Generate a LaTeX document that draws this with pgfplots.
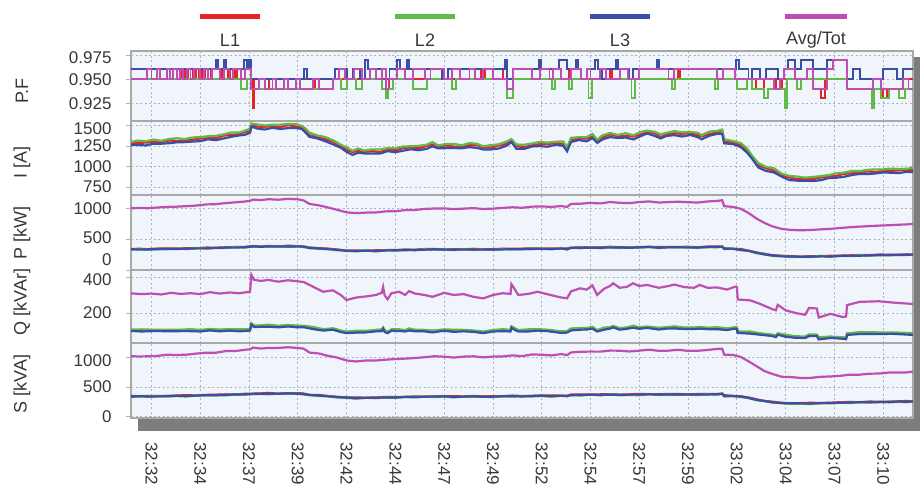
\documentclass[border=0pt]{standalone}
\usepackage{pgfplots}
\pgfplotsset{compat=1.18}
\usepackage{pgfplotstable}
\usepackage{fontspec}
\setmainfont{Liberation Sans}
\definecolor{cL1}{RGB}{232,35,40}
\definecolor{cL2}{RGB}{98,186,70}
\definecolor{cL3}{RGB}{58,78,168}
\definecolor{cAvg}{RGB}{190,78,178}
\definecolor{bgc}{RGB}{239,245,250}
\definecolor{gridc}{RGB}{170,180,190}
\definecolor{framec}{RGB}{168,168,168}
\definecolor{txt}{RGB}{55,55,55}
\definecolor{shadowc}{RGB}{125,125,125}
\newcommand\tf{\fontsize{17bp}{17bp}\selectfont}
\newcommand\lf{\fontsize{18bp}{18bp}\selectfont}

% ---------- P.F (step data) ----------
\pgfplotstableread{
t v
-1.05 0.95
1.46 0.96
1.55 0.95
1.70 0.96
1.85 0.95
2.00 0.96
2.10 0.95
2.30 0.96
2.45 0.95
2.60 0.96
2.75 0.95
2.90 0.96
3.05 0.95
3.50 0.96
3.60 0.95
3.90 0.96
4.05 0.95
4.30 0.96
4.40 0.95
5.12 0.95
5.18 0.92
5.28 0.95
6.00 0.94
6.20 0.95
6.80 0.94
7.00 0.95
8.40 0.94
8.60 0.95
12.00 0.94
12.20 0.95
16.90 0.96
17.10 0.95
17.50 0.96
18.00 0.95
18.20 0.94
18.55 0.95
21.40 0.96
21.50 0.95
23.50 0.96
23.60 0.95
27.00 0.96
27.10 0.95
31.00 0.94
31.40 0.95
32.00 0.94
32.30 0.95
33.92 0.94
34.30 0.93
34.50 0.95
35.63 0.94
37.50 0.93
37.70 0.94
38.50 0.95
39.03 0.95
}\pfA
\pgfplotstableread{
t v
-1.05 0.95
4.60 0.94
4.90 0.95
5.12 0.94
9.30 0.95
9.70 0.94
10.00 0.95
10.50 0.94
10.80 0.95
11.80 0.94
12.00 0.93
12.10 0.94
12.40 0.95
13.40 0.94
14.10 0.95
15.40 0.94
15.60 0.95
18.20 0.93
18.55 0.95
20.55 0.94
20.70 0.95
21.40 0.94
21.55 0.95
22.40 0.93
22.60 0.95
24.60 0.93
24.80 0.95
26.70 0.94
26.85 0.95
28.90 0.94
29.05 0.95
30.00 0.94
30.50 0.95
30.80 0.94
31.40 0.93
31.60 0.94
32.45 0.92
32.55 0.95
33.10 0.94
33.30 0.95
35.63 0.94
36.95 0.92
37.05 0.94
37.40 0.93
37.80 0.94
38.30 0.93
38.60 0.94
39.03 0.94
}\pfB
\pgfplotstableread{
t v
-1.05 0.96
3.30 0.97
3.42 0.96
3.72 0.97
3.84 0.96
4.75 0.97
4.88 0.96
5.00 0.97
5.12 0.95
7.82 0.96
7.95 0.95
9.40 0.96
10.00 0.95
10.35 0.96
10.69 0.95
10.95 0.97
11.08 0.96
12.00 0.95
12.20 0.96
12.60 0.97
12.72 0.96
13.10 0.97
13.22 0.96
14.90 0.95
15.20 0.96
18.10 0.97
18.20 0.95
18.55 0.96
19.85 0.97
19.98 0.96
20.90 0.97
21.30 0.96
21.75 0.97
21.85 0.96
22.00 0.95
22.30 0.96
22.75 0.97
22.88 0.96
23.10 0.95
23.30 0.96
23.80 0.97
23.92 0.96
24.50 0.95
24.70 0.96
25.90 0.97
26.02 0.96
29.95 0.97
30.12 0.96
30.60 0.95
30.80 0.96
31.20 0.95
31.50 0.96
32.10 0.95
32.40 0.96
32.60 0.97
33.00 0.96
33.30 0.97
33.92 0.96
34.60 0.97
35.63 0.95
35.95 0.96
36.30 0.95
37.50 0.96
38.20 0.95
38.50 0.96
39.03 0.96
}\pfC
\pgfplotstableread{
t v
-1.05 0.95
-0.25 0.96
0.00 0.95
0.27 0.96
0.44 0.95
0.78 0.96
0.95 0.95
1.12 0.96
1.29 0.95
1.46 0.96
1.60 0.95
1.80 0.96
2.00 0.95
2.20 0.96
2.50 0.95
2.70 0.96
2.90 0.95
3.10 0.96
3.50 0.95
3.70 0.96
4.00 0.95
4.20 0.96
4.60 0.95
4.80 0.96
5.12 0.94
5.50 0.95
5.80 0.94
6.20 0.95
6.40 0.94
6.80 0.95
7.00 0.94
7.40 0.95
7.60 0.94
8.30 0.95
8.60 0.94
9.30 0.95
9.60 0.96
9.90 0.95
10.40 0.96
10.80 0.95
11.20 0.96
11.50 0.95
11.80 0.96
12.00 0.94
12.15 0.95
12.60 0.96
13.00 0.95
13.40 0.96
14.00 0.95
14.30 0.96
15.00 0.95
15.40 0.96
15.80 0.95
16.30 0.96
16.60 0.95
17.00 0.96
17.50 0.95
18.20 0.94
18.55 0.96
19.50 0.95
19.90 0.96
20.40 0.95
20.60 0.96
21.00 0.95
21.50 0.96
22.00 0.95
22.30 0.96
22.50 0.95
23.00 0.96
23.30 0.95
24.00 0.96
24.40 0.95
25.00 0.96
26.50 0.95
26.80 0.96
29.00 0.95
29.30 0.96
29.90 0.95
31.90 0.94
32.20 0.95
32.40 0.96
33.00 0.95
33.60 0.96
33.92 0.94
34.60 0.96
34.95 0.97
35.63 0.94
37.00 0.95
37.40 0.94
38.50 0.95
38.80 0.94
39.03 0.94
}\pfD

% ---------- I [A] ----------
\pgfplotstableread{
t a b c
-1.05 1286 1300 1263
-0.7 1286 1316 1263
-0.3 1292 1306 1256
0.1 1298 1329 1278
0.5 1297 1313 1278
0.9 1317 1335 1284
1.3 1312 1345 1295
1.7 1317 1334 1297
2.1 1327 1354 1304
2.5 1342 1359 1309
2.9 1355 1369 1332
3.3 1344 1374 1321
3.7 1378 1392 1342
4.1 1383 1414 1363
4.5 1398 1414 1379
4.8 1420 1438 1387
5.05 1429 1462 1412
5.12 1507 1524 1487
5.4 1487 1514 1464
5.8 1484 1501 1451
6.2 1495 1509 1472
6.6 1481 1511 1458
7.0 1504 1518 1468
7.4 1488 1519 1468
7.7 1478 1494 1459
7.9 1445 1463 1412
8.1 1379 1412 1362
8.5 1362 1379 1342
8.9 1332 1359 1309
9.3 1304 1321 1271
9.7 1253 1267 1230
10.0 1201 1231 1178
10.3 1178 1192 1142
10.6 1188 1219 1168
10.9 1178 1194 1159
11.3 1191 1209 1158
11.7 1174 1207 1157
12.1 1207 1224 1187
12.5 1197 1224 1174
12.9 1226 1243 1193
13.3 1233 1247 1210
13.7 1222 1252 1199
14.1 1251 1265 1215
14.4 1266 1297 1246
14.7 1240 1256 1221
15.1 1257 1275 1224
15.5 1242 1275 1225
15.9 1242 1259 1222
16.3 1259 1286 1236
16.7 1259 1276 1226
17.0 1231 1245 1208
17.4 1231 1261 1208
17.8 1256 1270 1220
18.2 1273 1304 1253
18.45 1318 1334 1299
18.7 1250 1268 1217
19.1 1232 1265 1215
19.5 1264 1281 1244
19.9 1272 1299 1249
20.3 1274 1291 1241
20.7 1288 1302 1265
21.1 1276 1306 1253
21.3 1221 1235 1185
21.5 1318 1349 1298
21.9 1342 1358 1323
22.3 1340 1358 1307
22.6 1364 1397 1347
22.85 1307 1324 1287
23.1 1352 1379 1329
23.5 1392 1409 1359
23.9 1371 1385 1348
24.3 1376 1406 1353
24.7 1366 1380 1330
25.1 1393 1424 1373
25.4 1422 1438 1403
25.8 1405 1423 1372
26.1 1359 1392 1342
26.4 1394 1411 1374
26.8 1405 1432 1382
27.2 1399 1416 1366
27.6 1408 1422 1385
28.0 1381 1411 1358
28.2 1368 1382 1332
28.6 1396 1427 1376
29.0 1418 1434 1399
29.25 1433 1451 1400
29.35 1299 1332 1282
29.8 1294 1311 1274
30.2 1259 1286 1236
30.5 1209 1226 1176
30.8 1113 1127 1090
31.1 1011 1041 988
31.5 981 995 945
31.9 948 979 928
32.3 895 911 876
32.7 867 885 834
33.1 844 877 827
33.5 847 864 827
33.9 845 872 822
34.3 866 883 833
34.7 881 895 858
35.1 886 916 863
35.5 911 925 875
35.9 916 947 896
36.3 928 944 909
36.7 940 958 907
37.1 932 965 915
37.5 947 964 927
37.9 947 974 924
38.3 952 969 919
38.7 958 972 935
39.03 954 984 931
}\Itab

% ---------- P [kW] ----------
\pgfplotstableread{
t a b c d
-1.05 338 326 334 995
-0.6 343 342 331 1002
-0.2 336 324 333 996
0.3 346 341 335 1008
0.8 346 332 342 1018
1.3 346 347 339 1022
1.8 351 338 343 1030
2.3 350 356 349 1040
2.8 362 344 349 1058
3.3 360 358 355 1062
3.8 366 354 362 1080
4.3 373 372 361 1092
4.8 372 360 369 1105
5.05 383 378 372 1118
5.2 386 372 382 1136
5.6 381 382 374 1128
6.0 389 376 381 1142
6.5 381 387 380 1134
7.0 392 374 379 1148
7.5 386 384 381 1140
7.8 380 368 376 1122
8.1 364 363 352 1066
8.6 351 339 348 1042
9.0 347 342 336 1012
9.5 331 317 327 972
10.0 315 316 308 930
10.5 314 301 306 918
11.0 312 318 311 926
11.5 318 300 305 928
12.0 321 319 316 946
12.5 322 310 318 948
13.0 331 330 319 966
13.5 327 315 324 968
14.0 339 334 328 986
14.5 338 324 334 992
15.0 336 337 329 994
15.5 335 322 327 982
16.0 333 339 332 990
16.5 342 324 329 998
17.0 334 332 329 984
17.5 336 324 332 990
18.0 343 342 331 1002
18.5 341 329 338 1012
19.0 345 340 334 1004
19.5 348 334 344 1022
20.0 347 348 340 1026
20.5 347 334 339 1018
21.0 347 353 346 1032
21.3 348 330 335 1018
21.5 361 359 356 1066
22.0 363 351 359 1070
22.5 370 369 358 1082
23.0 362 350 359 1074
23.5 375 370 364 1096
24.0 368 354 364 1084
24.5 365 366 358 1080
25.0 373 360 365 1096
25.5 372 378 371 1106
26.0 372 354 359 1088
26.5 371 369 366 1096
27.0 373 361 369 1102
27.5 374 373 362 1094
28.0 367 355 364 1088
28.5 379 374 368 1106
29.0 378 364 374 1114
29.25 380 381 373 1126
29.35 351 338 343 1030
29.8 342 348 341 1018
30.2 338 320 325 988
30.6 313 311 308 920
31.0 283 271 279 832
31.4 263 262 251 762
31.8 239 227 236 706
32.3 231 226 220 662
32.8 222 208 218 646
33.3 218 219 211 640
33.8 223 210 215 646
34.3 222 228 221 656
34.8 230 212 217 664
35.3 232 230 227 678
35.8 236 224 232 690
36.3 242 241 230 700
36.8 240 228 237 708
37.3 249 244 238 716
37.8 248 234 244 722
38.3 248 249 241 730
38.7 253 240 245 736
39.03 250 256 249 742
}\Ptab

% ---------- Q [kVAr] ----------
\pgfplotstableread{
t a b c d
-1.05 104 108 100 309
-0.5 100 109 97 305
0.0 105 107 99 308
0.5 101 107 99 303
1.0 103 107 98 312
1.5 105 107 99 306
2.0 100 110 99 310
2.5 103 106 97 305
3.0 105 111 103 316
3.5 105 108 98 308
4.0 106 110 102 314
4.5 101 110 98 310
5.05 108 110 102 318
5.12 137 143 135 412
5.25 127 131 122 385
5.6 129 131 123 378
6.0 125 135 124 384
6.5 126 129 120 374
7.0 127 133 125 382
7.5 127 130 120 376
7.8 125 129 121 372
8.3 113 122 110 345
8.8 108 110 102 318
9.3 109 115 107 326
9.7 99 103 94 300
10.0 94 96 88 272
10.5 92 102 91 286
11.0 98 101 92 292
11.5 100 106 98 300
11.8 106 109 99 312
11.87 116 120 112 345
11.95 97 106 94 298
12.1 94 96 88 276
12.3 103 109 101 310
12.7 105 109 100 318
13.0 103 105 97 300
13.2 104 114 103 322
13.5 104 107 98 308
14.0 100 106 98 300
14.4 99 102 92 290
15.0 105 109 101 312
15.5 98 107 95 300
16.0 104 106 98 305
16.5 97 103 95 290
17.0 93 97 88 281
17.5 103 105 97 300
18.0 100 110 99 310
18.4 103 106 97 306
18.45 120 126 118 360
18.6 114 117 107 335
18.8 101 105 97 300
19.3 100 109 97 306
19.8 108 110 102 318
20.3 101 107 99 304
21.0 94 98 89 286
21.3 97 99 91 282
21.5 104 114 103 320
21.97 113 116 107 337
22.3 110 116 108 330
22.6 120 123 113 353
22.84 101 105 97 300
23.2 110 119 107 335
23.5 119 121 113 350
23.66 122 128 120 365
24.0 112 116 107 340
24.38 118 120 112 346
24.68 119 129 118 365
25.0 118 121 112 350
25.4 119 125 117 356
26.0 115 118 108 340
26.5 118 122 114 350
26.8 117 126 114 358
27.3 117 119 111 344
27.8 113 119 111 340
28.1 118 122 113 356
28.5 116 118 110 340
29.0 111 121 110 342
29.5 111 114 105 330
29.9 115 121 113 346
30.0 117 120 110 345
30.05 93 97 89 275
30.7 88 97 85 270
31.2 85 87 79 250
31.8 74 80 72 222
32.0 71 75 66 215
32.1 85 87 79 245
32.5 69 79 68 215
33.0 68 71 62 200
33.5 63 69 61 190
33.7 78 81 71 228
34.1 76 80 72 225
34.2 56 65 53 175
34.8 67 69 61 195
35.4 59 65 57 178
35.6 59 63 54 180
35.65 84 86 78 244
36.3 84 94 83 262
37.3 89 92 83 265
38.0 86 92 84 258
39.03 85 88 78 250
}\Qtab

% ---------- S [kVA] ----------
\pgfplotstableread{
t a b c d
-1.05 347 330 338 1019
-0.6 344 343 343 1016
-0.2 349 332 339 1018
0.3 348 346 340 1025
0.8 347 336 347 1045
1.3 355 346 351 1040
1.8 361 338 348 1046
2.3 356 355 354 1064
2.8 366 354 362 1079
3.3 370 361 360 1079
3.8 375 358 366 1106
4.3 374 373 373 1108
4.8 385 368 375 1129
5.05 385 383 377 1137
5.2 387 376 387 1166
5.6 390 381 386 1149
6.0 399 376 386 1160
6.5 387 386 385 1160
7.0 396 384 392 1171
7.5 396 387 386 1159
7.8 389 372 380 1148
8.1 365 364 364 1081
8.6 364 347 354 1065
9.0 349 347 341 1029
9.5 332 321 332 998
10.0 324 315 320 947
10.5 324 301 311 931
11.0 318 317 316 948
11.5 322 310 318 947
12.0 331 322 321 961
12.5 331 314 322 971
13.0 332 331 331 979
13.5 340 323 330 989
14.0 341 339 333 1003
14.5 339 328 339 1019
15.0 345 336 341 1012
15.5 345 322 332 997
16.0 339 338 337 1013
16.5 346 334 342 1018
17.0 344 335 334 1000
17.5 345 328 336 1014
18.0 344 343 343 1016
18.5 354 337 344 1034
19.0 347 345 339 1021
19.5 349 338 349 1049
20.0 356 347 352 1045
20.5 357 334 344 1033
21.0 353 352 351 1056
21.3 352 340 348 1038
21.5 371 362 361 1083
22.0 372 355 363 1095
22.5 371 370 370 1098
23.0 375 358 365 1097
23.5 377 375 369 1115
24.0 369 358 369 1113
24.5 374 365 370 1100
25.0 383 360 370 1113
25.5 378 377 376 1131
26.0 376 364 372 1110
26.5 381 372 371 1114
27.0 382 365 373 1128
27.5 375 374 374 1110
28.0 380 363 370 1112
28.5 381 379 373 1125
29.0 379 368 379 1143
29.25 389 380 385 1147
29.35 361 338 348 1046
29.8 348 347 346 1041
30.2 342 330 338 1008
30.6 323 314 313 934
31.0 292 275 283 853
31.4 264 263 263 771
31.8 252 235 242 722
32.3 233 231 225 672
32.8 223 212 223 666
33.3 227 218 223 651
33.8 233 210 220 654
34.3 228 227 226 672
34.8 234 222 230 677
35.3 242 233 232 688
35.8 245 228 236 708
36.3 243 242 242 708
36.8 253 236 243 724
37.3 251 249 243 727
37.8 249 238 249 743
38.3 257 248 253 743
38.7 263 240 250 746
39.03 256 255 254 760
}\Stab

\pgfplotsset{
  panel/.style={
    scale only axis, width=782bp, anchor=north west,
    xmin=-1.05, xmax=39.03,
    xtick={0,2.5,5,7.5,10,12.5,15,17.5,20,22.5,25,27.5,30,32.5,35,37.5},
    xticklabel={},
    grid=major,
    major grid style={gridc, dash pattern=on 2bp off 2.5bp, line width=0.7bp},
    axis background/.style={fill=bgc},
    axis line style={framec, line width=1.3bp},
    tick pos=left,
    xtick style={draw=none},
    ytick style={gridc, line width=0.7bp},
    major tick length=5bp,
    tick align=outside,
    /pgf/number format/assume math mode=true,
    yticklabel style={font=\tf, text=txt, text height=12bp, text depth=0bp, xshift=-11bp},
    ylabel style={anchor=center, font=\lf, text=txt},
  },
  pl1/.style={cL1, line width=2.2bp},
  pl2/.style={cL2, line width=2.2bp},
  pl3/.style={cL3, line width=2.2bp},
  plA/.style={cAvg, line width=2.2bp},
  pf1/.style={cL1, line width=1.9bp, const plot},
  pf2/.style={cL2, line width=1.9bp, const plot},
  pf3/.style={cL3, line width=1.9bp, const plot},
  pfA/.style={cAvg, line width=1.9bp, const plot},
}

\begin{document}
\begin{tikzpicture}
\path[use as bounding box] (0,0) rectangle (921bp,-491bp);
\fill[shadowc] (138bp,-57bp) rectangle (920bp,-431bp);

% legend
\draw[cL1, line width=5bp] (200bp,-16bp) -- (260bp,-16bp);
\node[text=txt, font=\lf] at (230bp,-40bp) {L1};
\draw[cL2, line width=5bp] (395bp,-16bp) -- (455bp,-16bp);
\node[text=txt, font=\lf] at (425bp,-40bp) {L2};
\draw[cL3, line width=5bp] (590bp,-16bp) -- (650bp,-16bp);
\node[text=txt, font=\lf] at (620bp,-40bp) {L3};
\draw[cAvg, line width=5bp] (785bp,-16bp) -- (847bp,-16bp);
\node[text=txt, font=\lf] at (816bp,-40bp) {Avg/Tot};

% P.F
\begin{axis}[panel, at={(131bp,-51bp)}, height=70bp,
  ymin=0.9063, ymax=0.9792,
  ytick={0.925,0.95,0.975}, yticklabels={0.925,0.950,\raisebox{-2bp}{0.975}},
  ylabel={P.F}, ylabel style={at={([xshift=-109bp,yshift=-5bp]rel axis cs:0,0.5)}}]
\addplot[pf1] table[x=t,y=v] \pfA;
\addplot[pf2] table[x=t,y=v] \pfB;
\addplot[pf3] table[x=t,y=v] \pfC;
\addplot[pfA] table[x=t,y=v] \pfD;
\end{axis}

% I
\begin{axis}[panel, at={(131bp,-121bp)}, height=74bp,
  ymin=652, ymax=1555,
  ytick={750,1000,1250,1500}, yticklabels={750,1000,1250,\raisebox{-3bp}{1500}},
  ylabel={I [A]}, ylabel style={at={([xshift=-109bp,yshift=-4bp]rel axis cs:0,0.5)}}]
\addplot[pl1] table[x=t,y=a] \Itab;
\addplot[pl2] table[x=t,y=b] \Itab;
\addplot[pl3] table[x=t,y=c] \Itab;
\end{axis}

% P
\begin{axis}[panel, at={(131bp,-195bp)}, height=75bp,
  ymin=0, ymax=1210,
  ytick={0,500,1000}, yticklabels={\raisebox{11bp}{0},\raisebox{2bp}{500},1000},
  ylabel={P [kW]}, ylabel style={at={([xshift=-109bp]rel axis cs:0,0.5)}}]
\addplot[pl1] table[x=t,y=a] \Ptab;
\addplot[pl2] table[x=t,y=b] \Ptab;
\addplot[pl3] table[x=t,y=c] \Ptab;
\addplot[plA] table[x=t,y=d] \Ptab;
\end{axis}

% Q
\begin{axis}[panel, at={(131bp,-270bp)}, height=73bp,
  ymin=33, ymax=439,
  ytick={200,400}, yticklabels={200,\raisebox{-2bp}{400}},
  ylabel={Q [kVAr]}, ylabel style={at={([xshift=-109bp,yshift=4.5bp]rel axis cs:0,0.5)}}]
\addplot[pl1] table[x=t,y=a] \Qtab;
\addplot[pl2] table[x=t,y=b] \Qtab;
\addplot[pl3] table[x=t,y=c] \Qtab;
\addplot[plA] table[x=t,y=d] \Qtab;
\end{axis}

% S
\begin{axis}[panel, at={(131bp,-343bp)}, height=75bp,
  ymin=-25, ymax=1243,
  ytick={0,500,1000}, yticklabels={0,500,\raisebox{-3bp}{1000}},
  xticklabels={32:32,32:34,32:37,32:39,32:42,32:44,32:47,32:49,32:52,32:54,32:57,32:59,33:02,33:04,33:07,33:10},
  xticklabel style={rotate=-90, anchor=west, font=\tf, text=txt},
  xticklabel shift=16bp,
  ylabel={S [kVA]}, ylabel style={at={([xshift=-109bp,yshift=-3.5bp]rel axis cs:0,0.5)}}]
\addplot[pl1] table[x=t,y=a] \Stab;
\addplot[pl2] table[x=t,y=b] \Stab;
\addplot[pl3] table[x=t,y=c] \Stab;
\addplot[plA] table[x=t,y=d] \Stab;
\end{axis}
\end{tikzpicture}
\end{document}
